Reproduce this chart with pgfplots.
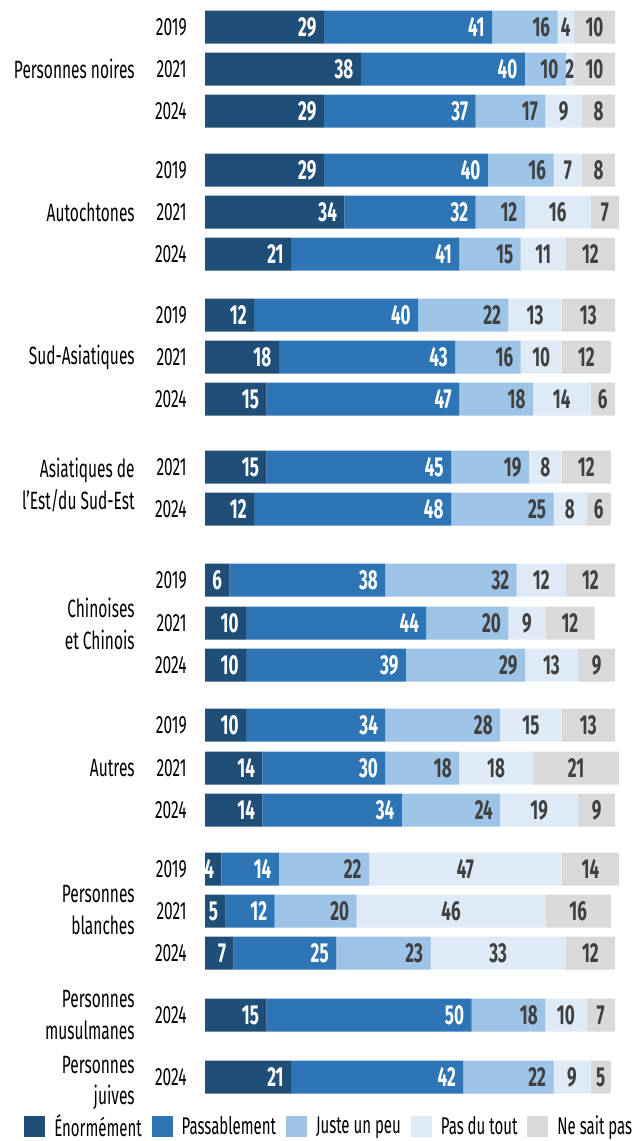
\documentclass[border=0pt]{standalone}
\usepackage{fontspec}
\setmainfont{Fira Sans}[FakeStretch=0.62]
\usepackage{pgfplots}
\pgfplotsset{compat=1.18}
\definecolor{c1}{HTML}{1F4E79}
\definecolor{c2}{HTML}{2E75B6}
\definecolor{c3}{HTML}{9DC3E6}
\definecolor{c4}{HTML}{DEEBF7}
\definecolor{c5}{HTML}{D9D9D9}
\definecolor{tx}{HTML}{404040}
\newcommand\fs{\fontsize{15}{19}\selectfont}
\newcommand\fn{\fontsize{16.5}{19}\selectfont\bfseries}
% nodes near coords of stacked bars sit at the middle of each segment:
% right-align the label inside the segment
\newcommand\rlabel{\pgfmathsetlengthmacro\segw{2.46pt*\pgfplotspointmeta}\makebox[0pt][c]{\makebox[\segw][r]{\pgfplotspointmeta\hspace*{4.5pt}}}}
\tikzset{grp/.style={font=\fs, anchor=east, align=right, inner sep=0pt}}
\begin{document}
\begin{tikzpicture}
\useasboundingbox (0pt,-684.6pt) rectangle (382.2pt,0pt);
\begin{axis}[
  at={(123pt,0pt)}, anchor=north west,
  scale only axis, width=246pt, height=684.6pt,
  xmin=0, xmax=100, ymin=0, ymax=1141, y dir=reverse,
  enlargelimits=false, clip=false,
  xbar stacked, bar width=33,
  axis line style={draw=none}, tick style={draw=none},
  xtick=\empty,
  ytick={27,69,111,170,212,254,315,357,399,467,509,580,623,665,725,768,810,869,911,953,1015,1077},
  yticklabels={2019,2021,2024,2019,2021,2024,2019,2021,2024,2021,2024,2019,2021,2024,2019,2021,2024,2019,2021,2024,2024,2024},
  yticklabel style={font=\fs, text=black, inner sep=0pt, xshift=-10.8pt},
  point meta=explicit symbolic,
  legend columns=5,
  legend style={draw=none, fill=none, font=\fontsize{14.5}{17}\selectfont, at={(axis cs:-44.15,1139)}, anchor=south west,
     inner sep=0pt, nodes={inner sep=0pt},
     /tikz/every odd column/.append style={column sep=5.4pt},
     /tikz/every even column/.append style={column sep=6pt}},
  legend image code/.code={\path[#1,draw=none] (0pt,-6.3pt) rectangle (12.6pt,6.3pt);},
]
\addplot[fill=c1, draw=none, nodes near coords={\rlabel}, every node near coord/.append style={anchor=center, inner sep=0pt, text=white, font=\fn}] coordinates {
(29,27)[29] (38,69)[38] (29,111)[29] (29,170)[29] (34,212)[34] (21,254)[21]
(12,315)[12] (18,357)[18] (15,399)[15] (15,467)[15] (12,509)[12]
(6,580)[6] (10,623)[10] (10,665)[10] (10,725)[10] (14,768)[14] (14,810)[14]
(4,869)[4] (5,911)[5] (7,953)[7] (15,1015)[15] (21,1077)[21]};
\addlegendentry{Énormément}
\addplot[fill=c2, draw=none, nodes near coords={\rlabel}, every node near coord/.append style={anchor=center, inner sep=0pt, text=white, font=\fn}] coordinates {
(41,27)[41] (40,69)[40] (37,111)[37] (40,170)[40] (32,212)[32] (41,254)[41]
(40,315)[40] (43,357)[43] (47,399)[47] (45,467)[45] (48,509)[48]
(38,580)[38] (44,623)[44] (39,665)[39] (34,725)[34] (30,768)[30] (34,810)[34]
(14,869)[14] (12,911)[12] (25,953)[25] (50,1015)[50] (42,1077)[42]};
\addlegendentry{Passablement}
\addplot[fill=c3, draw=none, nodes near coords={\rlabel}, every node near coord/.append style={anchor=center, inner sep=0pt, text=tx, font=\fn}] coordinates {
(16,27)[16] (10,69)[10] (17,111)[17] (16,170)[16] (12,212)[12] (15,254)[15]
(22,315)[22] (16,357)[16] (18,399)[18] (19,467)[19] (25,509)[25]
(32,580)[32] (20,623)[20] (29,665)[29] (28,725)[28] (18,768)[18] (24,810)[24]
(22,869)[22] (20,911)[20] (23,953)[23] (18,1015)[18] (22,1077)[22]};
\addlegendentry{Juste un peu}
\addplot[fill=c4, draw=none, nodes near coords={\pgfplotspointmeta}, every node near coord/.append style={anchor=center, inner sep=0pt, text=tx, font=\fn}] coordinates {
(4,27)[4] (2,69)[2] (9,111)[9] (7,170)[7] (16,212)[16] (11,254)[11]
(13,315)[13] (10,357)[10] (14,399)[14] (8,467)[8] (8,509)[8]
(12,580)[12] (9,623)[9] (13,665)[13] (15,725)[15] (18,768)[18] (19,810)[19]
(47,869)[47] (46,911)[46] (33,953)[33] (10,1015)[10] (9,1077)[9]};
\addlegendentry{Pas du tout}
\addplot[fill=c5, draw=none, nodes near coords={\pgfplotspointmeta}, every node near coord/.append style={anchor=center, inner sep=0pt, text=tx, font=\fn}] coordinates {
(10,27)[10] (10,69)[10] (8,111)[8] (8,170)[8] (7,212)[7] (12,254)[12]
(13,315)[13] (12,357)[12] (6,399)[6] (12,467)[12] (6,509)[6]
(12,580)[12] (12,623)[12] (9,665)[9] (13,725)[13] (21,768)[21] (9,810)[9]
(14,869)[14] (16,911)[16] (12,953)[12] (7,1015)[7] (5,1077)[5]};
\addlegendentry{Ne sait pas}
\node[grp] at (axis cs:-17.07,69) {Personnes noires};
\node[grp] at (axis cs:-17.07,212) {Autochtones};
\node[grp] at (axis cs:-17.07,357) {Sud-Asiatiques};
\node[grp] at (axis cs:-17.07,485) {Asiatiques de\\l'Est/du Sud-Est};
\node[grp] at (axis cs:-17.07,624) {Chinoises\\et Chinois};
\node[grp] at (axis cs:-17.07,768) {Autres};
\node[grp] at (axis cs:-17.07,910) {Personnes\\blanches};
\node[grp] at (axis cs:-17.07,1015) {Personnes\\musulmanes};
\node[grp] at (axis cs:-17.07,1083) {Personnes\\juives};
\end{axis}
\end{tikzpicture}
\end{document}
